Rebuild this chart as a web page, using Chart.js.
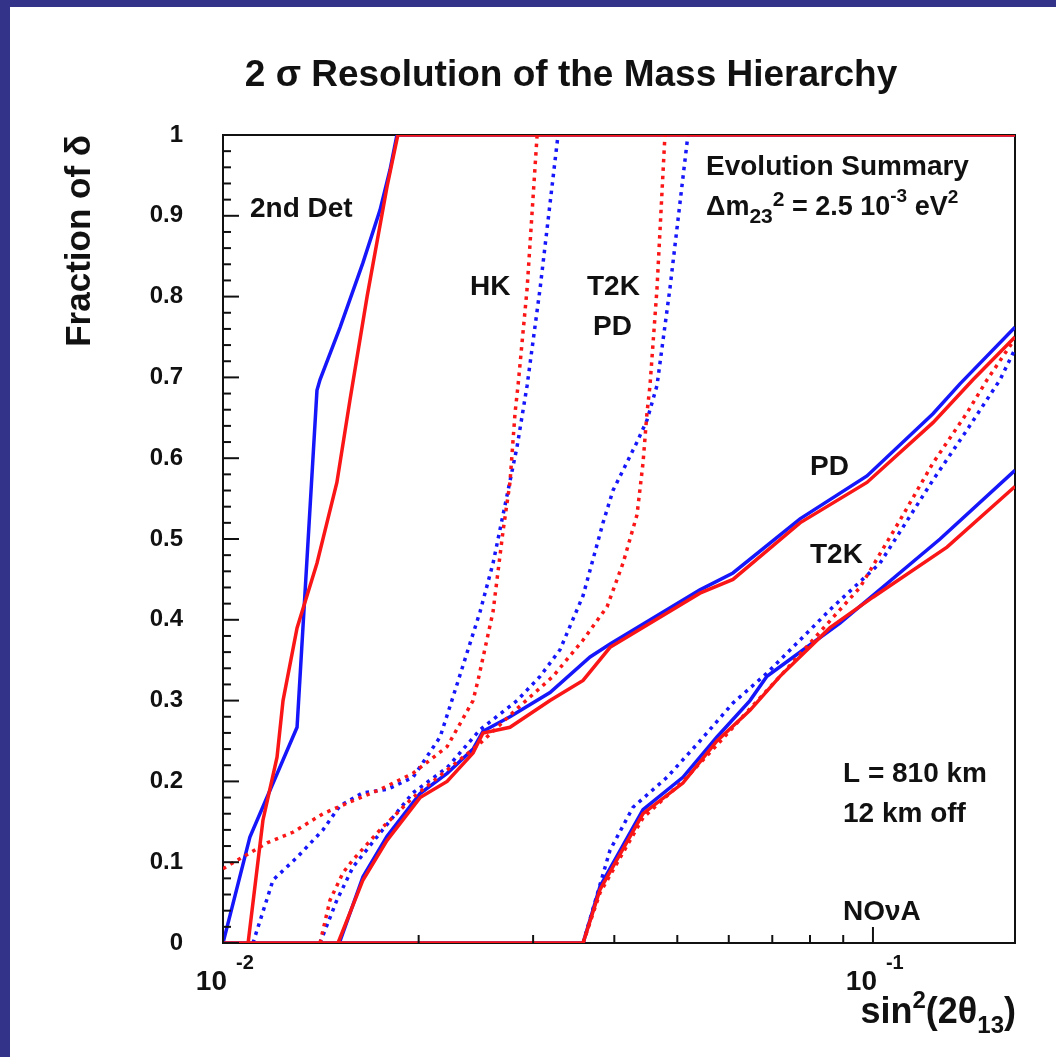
<!DOCTYPE html>
<html>
<head>
<meta charset="utf-8">
<script src="https://cdn.jsdelivr.net/npm/chart.js@4.4.1/dist/chart.umd.min.js"></script>
<style>
  html, body { margin: 0; padding: 0; background: #fff; }
  #wrap { width: 1056px; height: 1057px; position: relative; }
</style>
</head>
<body>
<div id="wrap"><canvas id="chart" width="1056" height="1057"></canvas></div>
<script>
// Curves: [sin^2(2theta13), fraction of delta]
const det2Blue = [[0.01,0],[0.0110,0.131],[0.0130,0.267],[0.01395,0.684],[0.0141,0.697],[0.01514,0.762],[0.01642,0.842],[0.01744,0.907],[0.01807,0.957],[0.01852,1],[0.1654,1]];
const det2Red = [[0.01093,0],[0.01152,0.152],[0.01211,0.23],[0.01237,0.30],[0.0130,0.39],[0.01395,0.47],[0.01497,0.57],[0.01568,0.672],[0.01666,0.80],[0.01788,0.936],[0.01858,1],[0.1654,1]];
const hkBlue = [[0.01112,0],[0.01194,0.078],[0.0130,0.106],[0.01425,0.14],[0.01514,0.17],[0.01642,0.186],[0.01788,0.19],[0.0196,0.205],[0.02158,0.255],[0.02291,0.32],[0.02486,0.41],[0.02603,0.47],[0.02697,0.53],[0.02834,0.614],[0.02937,0.69],[0.03075,0.81],[0.03277,1]];
const hkRed = [[0.01,0.092],[0.01169,0.124],[0.01281,0.137],[0.01425,0.16],[0.01552,0.173],[0.01744,0.19],[0.0196,0.21],[0.02212,0.243],[0.02425,0.30],[0.02468,0.325],[0.02603,0.41],[0.02697,0.51],[0.02764,0.57],[0.02814,0.656],[0.02844,0.69],[0.02937,0.81],[0.03043,1]];
const t2kpdBlue = [[0.0141,0],[0.01497,0.053],[0.01585,0.094],[0.01744,0.136],[0.0196,0.186],[0.02212,0.217],[0.02486,0.264],[0.02834,0.30],[0.03075,0.33],[0.0330,0.363],[0.03581,0.43],[0.03843,0.52],[0.03981,0.56],[0.04125,0.585],[0.04335,0.62],[0.04491,0.647],[0.04653,0.69],[0.04871,0.81],[0.05192,1]];
const t2kpdRed = [[0.0141,0],[0.01461,0.053],[0.0153,0.087],[0.01585,0.103],[0.01744,0.14],[0.0196,0.18],[0.02212,0.214],[0.02486,0.247],[0.02834,0.29],[0.03219,0.33],[0.03581,0.375],[0.03898,0.416],[0.04125,0.47],[0.04335,0.53],[0.04428,0.594],[0.04491,0.656],[0.04539,0.69],[0.04653,0.81],[0.04786,1]];
const pdBlue = [[0.0151,0],[0.01642,0.082],[0.01788,0.132],[0.0201,0.185],[0.02212,0.21],[0.02425,0.24],[0.02512,0.262],[0.02764,0.28],[0.03185,0.31],[0.03671,0.354],[0.0394,0.37],[0.05418,0.437],[0.0609,0.458],[0.07723,0.525],[0.0979,0.578],[0.1237,0.655],[0.1361,0.692],[0.1654,0.762]];
const pdRed = [[0.01503,0],[0.01642,0.078],[0.01788,0.127],[0.0201,0.18],[0.02212,0.20],[0.02425,0.235],[0.02512,0.26],[0.02764,0.267],[0.03185,0.30],[0.03581,0.325],[0.0394,0.366],[0.05418,0.433],[0.0609,0.45],[0.07723,0.52],[0.0979,0.57],[0.1237,0.644],[0.1425,0.697],[0.1654,0.75]];
const t2kBlue = [[0.01,0],[0.03581,0],[0.03802,0.07],[0.04428,0.165],[0.051,0.205],[0.05754,0.255],[0.06468,0.30],[0.06869,0.33],[0.08897,0.396],[0.12684,0.50],[0.1654,0.585]];
const t2kRed = [[0.01,0],[0.03581,0],[0.03802,0.066],[0.04428,0.16],[0.051,0.198],[0.05754,0.25],[0.06468,0.288],[0.07193,0.33],[0.0858,0.39],[0.1,0.428],[0.13,0.49],[0.1654,0.565]];
const t2kDotBlue = [[0.03581,0],[0.0394,0.115],[0.04274,0.168],[0.0482,0.205],[0.05418,0.25],[0.0609,0.297],[0.06869,0.334],[0.08679,0.416],[0.10251,0.47],[0.12371,0.573],[0.13954,0.635],[0.15683,0.697],[0.1654,0.735]];
const t2kDotRed = [[0.03581,0],[0.03802,0.062],[0.04428,0.155],[0.051,0.20],[0.05754,0.245],[0.06468,0.29],[0.0727,0.334],[0.0955,0.44],[0.11,0.523],[0.1237,0.594],[0.1395,0.656],[0.1498,0.697],[0.1654,0.748]];

// Axis ticks
const xMajorTicks = [0.01, 0.1];
const xMinorTicks = [0.02, 0.03, 0.04, 0.05, 0.06, 0.07, 0.08, 0.09];
const xTickExp = ['-2', '-1'];
const yMajorTicks = [0, 0.1, 0.2, 0.3, 0.4, 0.5, 0.6, 0.7, 0.8, 0.9, 1];
const yTickLabels = ['0', '0.1', '0.2', '0.3', '0.4', '0.5', '0.6', '0.7', '0.8', '0.9', '1'];

const BLUE = 'rgb(22,22,250)';
const RED = 'rgb(250,22,22)';
const FONT = '"Liberation Sans", Arial, sans-serif';

function makeSet(points, color, dotted) {
    return {
        data: points.map(p => ({ x: p[0], y: p[1] })),
        borderColor: color,
        borderWidth: 3.5,
        borderDash: dotted ? [3.5, 5] : [],
        borderCapStyle: 'butt',
        pointRadius: 0,
        tension: 0,
        fill: false,
        order: color === RED ? 0 : 1
    };
}

// draws a run of text pieces [text, size, dy] one after another
function drawRich(ctx, parts, x, y, align) {
    let w = 0;
    parts.forEach(p => { ctx.font = 'bold ' + p[1] + 'px ' + FONT; w += ctx.measureText(p[0]).width; });
    let cx = align === 'right' ? x - w : (align === 'center' ? x - w / 2 : x);
    ctx.textAlign = 'left';
    parts.forEach(p => {
        ctx.font = 'bold ' + p[1] + 'px ' + FONT;
        ctx.fillText(p[0], cx, y + (p[2] || 0));
        cx += ctx.measureText(p[0]).width;
    });
}

const rootStyle = {
    id: 'rootStyle',
    beforeDraw(chart) {
        const ctx = chart.ctx;
        ctx.save();
        ctx.fillStyle = '#fff';
        ctx.fillRect(0, 0, chart.width, chart.height);
        ctx.fillStyle = '#33338a';
        ctx.fillRect(0, 0, chart.width, 7);
        ctx.fillRect(0, 0, 10, chart.height);
        ctx.restore();
    },
    beforeDatasetsDraw(chart) {
        const a = chart.chartArea, ctx = chart.ctx;
        ctx.save();
        ctx.strokeStyle = '#111';
        ctx.lineWidth = 2;
        ctx.strokeRect(a.left, a.top, a.right - a.left, a.bottom - a.top);
        ctx.restore();
    },
    afterDatasetsDraw(chart) {
        const ctx = chart.ctx, a = chart.chartArea;
        const xs = chart.scales.x, ys = chart.scales.y;
        ctx.save();
        ctx.strokeStyle = '#111';
        ctx.fillStyle = '#111';
        ctx.lineWidth = 2;
        // y ticks (inside)
        for (let i = 0; i <= 50; i++) {
            const py = ys.getPixelForValue(i * 0.02);
            const len = i % 5 === 0 ? 16 : 8;
            ctx.beginPath(); ctx.moveTo(a.left, py); ctx.lineTo(a.left + len, py); ctx.stroke();
        }
        // x ticks (inside)
        xMajorTicks.concat(xMinorTicks).forEach(v => {
            const px = xs.getPixelForValue(v);
            const len = xMajorTicks.includes(v) ? 16 : 8;
            ctx.beginPath(); ctx.moveTo(px, a.bottom); ctx.lineTo(px, a.bottom - len); ctx.stroke();
        });
        // y tick labels
        ctx.textBaseline = 'middle';
        ctx.textAlign = 'right';
        ctx.font = 'bold 24px ' + FONT;
        yMajorTicks.forEach((v, i) => ctx.fillText(yTickLabels[i], a.left - 40, ys.getPixelForValue(v)));
        // x tick labels 10^n
        ctx.textBaseline = 'alphabetic';
        xMajorTicks.forEach((v, i) => {
            const px = xs.getPixelForValue(v);
            ctx.textAlign = 'right';
            ctx.font = 'bold 28px ' + FONT;
            ctx.fillText('10', px + 4, 990);
            ctx.textAlign = 'left';
            ctx.font = 'bold 20px ' + FONT;
            ctx.fillText(xTickExp[i], px + 13, 969);
        });
        // title
        ctx.textAlign = 'center';
        ctx.font = 'bold 37px ' + FONT;
        ctx.fillText('2 σ Resolution of the Mass Hierarchy', 571, 86);
        // axis titles
        drawRich(ctx, [['sin', 36], ['2', 24, -15], ['(2θ', 36], ['13', 24, 10], [')', 36]], 1016, 1023, 'right');
        ctx.save();
        ctx.translate(90, a.top);
        ctx.rotate(-Math.PI / 2);
        ctx.textAlign = 'right';
        ctx.font = 'bold 35px ' + FONT;
        ctx.fillText('Fraction of δ', 0, 0);
        ctx.restore();
        // annotations
        ctx.textAlign = 'left';
        ctx.font = 'bold 28px ' + FONT;
        ctx.fillText('2nd Det', 250, 217);
        ctx.fillText('HK', 470, 295);
        ctx.fillText('T2K', 587, 295);
        ctx.fillText('PD', 593, 335);
        ctx.fillText('Evolution Summary', 706, 175);
        ctx.fillText('PD', 810, 475);
        ctx.fillText('T2K', 810, 563);
        ctx.fillText('L = 810 km', 843, 782);
        ctx.fillText('12 km off', 843, 822);
        ctx.fillText('NOνA', 843, 920);
        drawRich(ctx, [['Δm', 27], ['23', 21, 8], ['2', 21, -9], [' = 2.5 10', 27], ['-3', 19, -13], [' eV', 27], ['2', 19, -12]], 706, 215, 'left');
        ctx.restore();
    }
};

const datasets = [
    makeSet(det2Red, RED, false), makeSet(det2Blue, BLUE, false),
    makeSet(hkRed, RED, true), makeSet(hkBlue, BLUE, true),
    makeSet(t2kpdRed, RED, true), makeSet(t2kpdBlue, BLUE, true),
    makeSet(pdRed, RED, false), makeSet(pdBlue, BLUE, false),
    makeSet(t2kDotRed, RED, true), makeSet(t2kDotBlue, BLUE, true),
    makeSet(t2kRed, RED, false), makeSet(t2kBlue, BLUE, false)
];

new Chart(document.getElementById('chart'), {
    type: 'line',
    data: { datasets: datasets },
    options: {
        responsive: false,
        animation: false,
        devicePixelRatio: 1,
        layout: { padding: { left: 223, top: 135, right: 41, bottom: 114 } },
        plugins: { legend: { display: false }, tooltip: { enabled: false } },
        scales: {
            x: { type: 'logarithmic', min: 0.01, max: 0.1654, display: false },
            y: { type: 'linear', min: 0, max: 1, display: false }
        }
    },
    plugins: [rootStyle]
});
</script>
</body>
</html>
